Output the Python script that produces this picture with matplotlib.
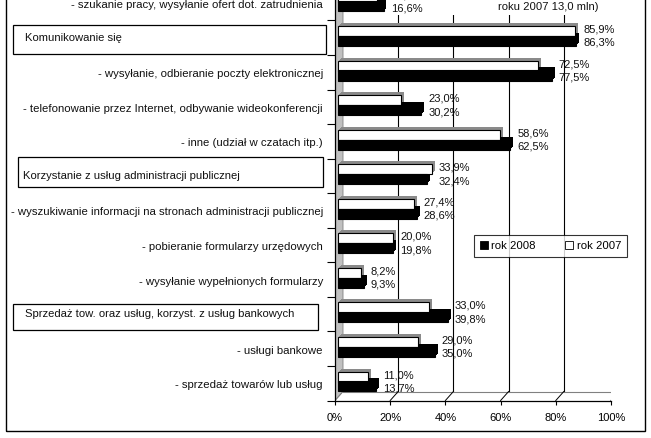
import matplotlib
matplotlib.use("Agg")
import matplotlib.pyplot as plt
import matplotlib.transforms as mtransforms
from matplotlib.patches import Rectangle, Patch, Polygon
import numpy as np

plt.rcParams['font.family'] = ['Liberation Sans', 'DejaVu Sans']

# ---------------- data ----------------
categories = [
    "- szukanie pracy, wysyłanie ofert dot. zatrudnienia",
    "Komunikowanie się",
    "- wysyłanie, odbieranie poczty elektronicznej",
    "- telefonowanie przez Internet, odbywanie wideokonferencji",
    "- inne (udział w czatach itp.)",
    "Korzystanie z usług administracji publicznej",
    "- wyszukiwanie informacji na stronach administracji publicznej",
    "- pobieranie formularzy urzędowych",
    "- wysyłanie wypełnionych formularzy",
    "Sprzedaż tow. oraz usług, korzyst. z usług bankowych",
    "- usługi bankowe",
    "- sprzedaż towarów lub usług",
]
is_group = [False, True, False, False, False, True, False, False, False, True, False, False]
values_2007 = [14.0, 85.9, 72.5, 23.0, 58.6, 33.9, 27.4, 20.0, 8.2, 33.0, 29.0, 11.0]
values_2008 = [16.6, 86.3, 77.5, 30.2, 62.5, 32.4, 28.6, 19.8, 9.3, 39.8, 35.0, 13.7]
series_names = ["rok 2008", "rok 2007"]
xticks = [0, 20, 40, 60, 80, 100]
xtick_labels = ["0%", "20%", "40%", "60%", "80%", "100%"]
note_text = "roku 2007 13,0 mln)"

# ---------------- layout ----------------
W, H = 651, 438
FS = 8.0      # values, ticks, legend
FS_CAT = 8.2  # category labels
fig = plt.figure(figsize=(W / 100, H / 100), dpi=100)
fig.patch.set_facecolor("white")

n = len(categories)
x0_px, x1_px = 335, 611
ybot_px = 400.5
cat_px = 34.55
ytop_px = ybot_px - n * cat_px
ax = fig.add_axes([x0_px / W, (H - ybot_px) / H, (x1_px - x0_px) / W, (ybot_px - ytop_px) / H])
ax.set_facecolor("none")
ax.set_xlim(0, 100)
ax.set_ylim(-0.5, n - 0.5)

ppx = (x1_px - x0_px) / 100.0
ppy = cat_px
dxu, dyu = 8 / ppx, 9 / ppy  # wall depth in data units


def off(dx, dy):
    return mtransforms.offset_copy(ax.transData, fig=fig, x=dx, y=dy, units="dots")


def fy(ypx):
    return 1 - ypx / H


# left grey wall
wall = Polygon([(0, -0.5), (dxu, -0.5 + dyu), (dxu, n + 1), (0, n + 1)], closed=True,
               facecolor="#c0c0c0", edgecolor="#808080", lw=0.6, zorder=1)
ax.add_patch(wall)
# back grid lines
for v in xticks[1:]:
    ax.plot([v + dxu, v + dxu], [-0.5 + dyu, n + 1], color="black", lw=0.8, zorder=1,
            solid_capstyle="butt")
# back floor line and floor diagonals
ax.plot([dxu, 100 + dxu], [-0.5 + dyu, -0.5 + dyu], color="#808080", lw=0.8, zorder=1)
for v in xticks:
    ax.plot([v, v + dxu], [-0.5, -0.5 + dyu], color="black" if v else "#808080", lw=0.7, zorder=1.2)

# bars
ypos = np.array([n - 1 - i for i in range(n)], dtype=float)
h = 0.29
yw = ypos + 0.105
yb = ypos - 0.18
bx, by = 3, 3
for k in (1, 2, 3):
    ax.barh(yw, values_2007, height=h, color="#8a8a8a", lw=0, zorder=2, transform=off(bx + k, by + k))
    ax.barh(yb, values_2008, height=h, color="black", lw=0, zorder=2, transform=off(bx + k, by + k))
ax.barh(yw, values_2007, height=h, color="white", edgecolor="black", lw=0.8, zorder=2.2,
        transform=off(bx, by))
ax.barh(yb, values_2008, height=h, color="black", edgecolor="black", lw=0.8, zorder=2.2,
        transform=off(bx, by))


def fmt(v):
    return f"{v:.1f}".replace(".", ",") + "%"


for i in range(n):
    xm = max(values_2007[i], values_2008[i])
    ax.annotate(fmt(values_2007[i]), xy=(xm, yw[i]), xytext=(bx + 7, by + 1.5),
                textcoords="offset pixels", ha="left", va="center", fontsize=FS, zorder=3,
                color="#111111", annotation_clip=False)
    ax.annotate(fmt(values_2008[i]), xy=(xm, yb[i]), xytext=(bx + 7, by - 2),
                textcoords="offset pixels", ha="left", va="center", fontsize=FS, zorder=3,
                color="#111111", annotation_clip=False)

# category labels
ytr = ax.get_yaxis_transform()
lab_tr = mtransforms.offset_copy(ytr, fig=fig, x=0, y=-2, units="dots")
gtr = mtransforms.blended_transform_factory(fig.transFigure, ax.transData)
group_boxes = {1: (13, 25, 326, 54), 5: (18, 157, 323, 187), 9: (13, 304, 318, 330)}
group_text_x = {1: 25, 5: 23, 9: 25}
for i, lab in enumerate(categories):
    if is_group[i]:
        ax.text(group_text_x[i] / W, ypos[i], lab, transform=gtr, ha="left", va="center",
                fontsize=FS_CAT - 0.1, color="#111111", clip_on=False)
        x0, y0, x1, y1 = group_boxes[i]
        fig.add_artist(Rectangle((x0 / W, fy(y1)), (x1 - x0) / W, (y1 - y0) / H,
                                 transform=fig.transFigure, fill=False, edgecolor="black", lw=0.9))
    else:
        ax.text((323 - x0_px) / (x1_px - x0_px), ypos[i], lab, transform=lab_tr, ha="right",
                va="center", fontsize=FS_CAT, color="#111111", clip_on=False)

# axes / ticks
for s in ("top", "right"):
    ax.spines[s].set_visible(False)
for s in ("left", "bottom"):
    ax.spines[s].set_color("black")
    ax.spines[s].set_linewidth(0.9)
    ax.spines[s].set_zorder(2.6)
ax.set_xticks(xticks)
ax.set_xticklabels(xtick_labels)
ax.tick_params(axis="x", direction="out", length=3, width=0.8, pad=6, labelsize=FS,
               colors="black")
ax.set_yticks([])
ax.set_yticks(np.arange(-0.5, n, 1.0), minor=True)
ax.tick_params(axis="y", which="minor", direction="out", length=5.8, width=0.8, colors="black")

# occluding note box at top right
ax.add_patch(Rectangle((386 / W, fy(15)), (642 - 386) / W, 20 / H, transform=fig.transFigure,
                       facecolor="white", edgecolor="none", zorder=2.5, clip_on=False))
ax.text(498 / W, fy(7), note_text, transform=fig.transFigure, ha="left", va="center",
        fontsize=FS_CAT - 0.1, color="#111111", zorder=3, clip_on=False)

# legend
handles = [Patch(facecolor="black", edgecolor="black", lw=0.6),
           Patch(facecolor="white", edgecolor="black", lw=0.6)]
leg = ax.legend(handles, series_names, loc="center", ncol=2,
                bbox_to_anchor=((473 + 628) / 2 / W, fy(246)), bbox_transform=fig.transFigure,
                fontsize=FS_CAT, handlelength=0.7, handleheight=0.7, handletextpad=0.3,
                columnspacing=2.6, borderpad=0.5, frameon=True, fancybox=False)
leg.get_frame().set_edgecolor("black")
leg.get_frame().set_linewidth(0.8)
leg.set_zorder(4)

# outer frame (top edge cut off)
fig.add_artist(Rectangle((6 / W, fy(431)), (645 - 6) / W, (431 + 10) / H,
                         transform=fig.transFigure, fill=False, edgecolor="black", lw=1.0))

fig.savefig("out.png", dpi=100, facecolor="white")
